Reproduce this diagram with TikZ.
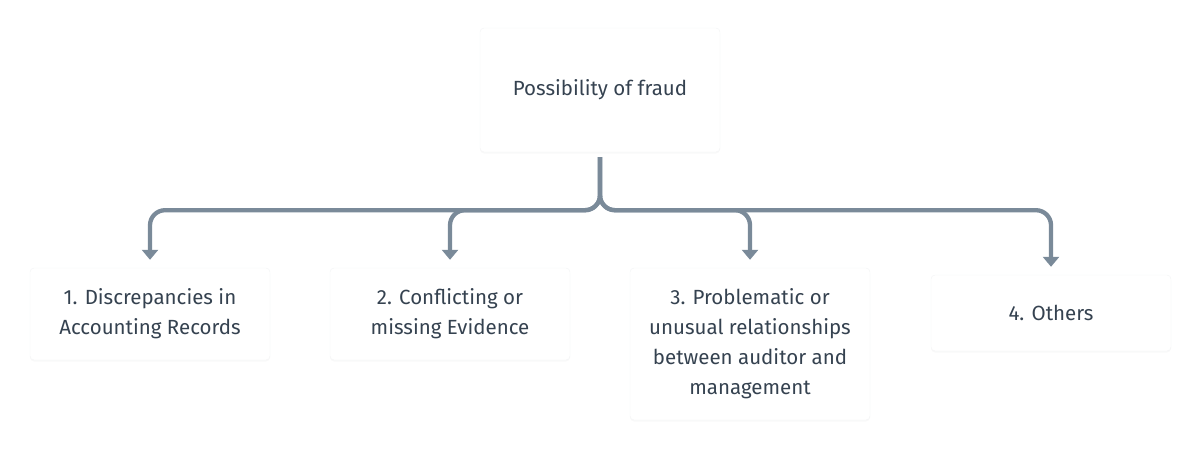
\documentclass[tikz,border=0pt]{standalone}
\usepackage{fontspec}
\setmainfont{Fira Sans}
\usepackage{tikz}
\usetikzlibrary{arrows.meta}
\usetikzlibrary{shadows}
\definecolor{linkgray}{HTML}{7A8A99}
\definecolor{textgray}{HTML}{354250}
\definecolor{edgegray}{HTML}{F3F4F5}
\tikzset{box/.style={rectangle, rounded corners=4pt, draw=edgegray, fill=white, text=textgray, align=center, minimum width=240pt, font=\fontsize{20.5}{30}\selectfont, drop shadow={shadow xshift=0pt, shadow yshift=-1.5pt, opacity=0.05}}}
\tikzset{link/.style={draw=linkgray, line width=4.3pt, rounded corners=15pt, -{Triangle[width=16pt,length=10pt]}}}

\begin{document}
\begin{tikzpicture}[x=1pt,y=-1pt]
    \useasboundingbox (0,0) rectangle (1201,450);
    \node[box, minimum height=124pt] (fraud) at (600,90) {Possibility of fraud};
    \foreach \x/\y/\h/\lab/\tx in {
      150/314/92/disc/{1. Discrepancies in\\Accounting Records},
      450/314/92/evid/{2. Conflicting or\\missing Evidence},
      750/344/152/rel/{3. Problematic or\\unusual relationships\\between auditor and\\management},
      1051/313/76/oth/{4. Others}%
    } {
      \node[box, minimum height=\h pt] (\lab) at (\x, \y) {\tx};
      \draw[link] ([yshift=-5pt]fraud.south) -- ++(0,53) -| ([yshift=8pt]\lab.north);
    }
  \end{tikzpicture}
\end{document}
